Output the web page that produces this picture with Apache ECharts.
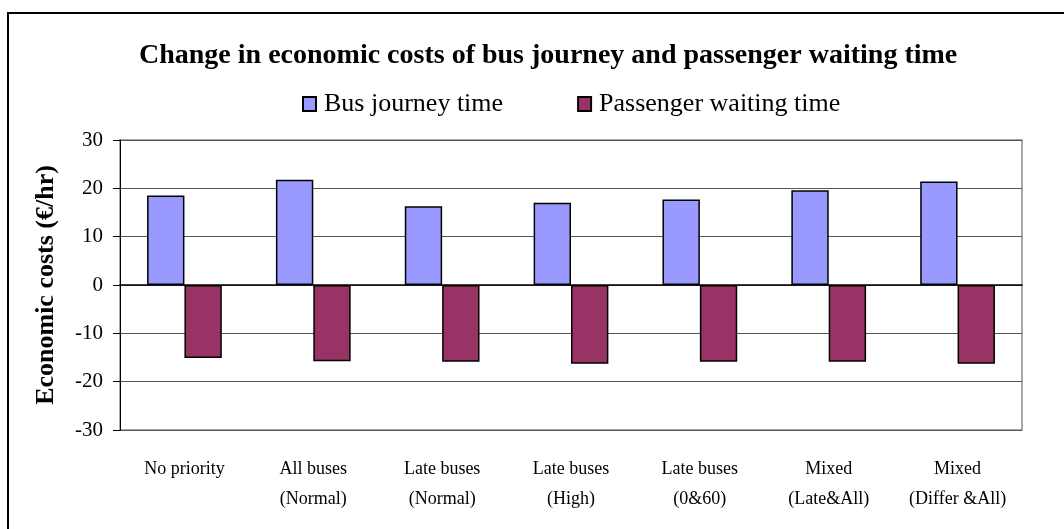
<!DOCTYPE html>
<html>
<head>
<meta charset="utf-8">
<script src="https://cdn.jsdelivr.net/npm/echarts@6/dist/echarts.min.js"></script>
<style>
  html, body { margin: 0; padding: 0; background: #fff; }
  #main { width: 1064px; height: 529px; }
</style>
</head>
<body>
<div id="main"></div>
<script>
const categories = ['No priority\n', 'All buses\n(Normal)', 'Late buses\n(Normal)', 'Late buses\n(High)',
    'Late buses\n(0&60)', 'Mixed\n(Late&All)', 'Mixed\n(Differ &All)']
const busJourney = [18.5, 21.8, 16.3, 17.0, 17.7, 19.6, 21.4]
const passengerWaiting = [-15.1, -15.8, -15.9, -16.3, -15.9, -15.9, -16.3]

const serif = 'Liberation Serif'

var myChart = echarts.init(document.getElementById('main'))
myChart.setOption({
    animation: false,
    title: {
        text: 'Change in economic costs of bus journey and passenger waiting time',
        left: 134,
        top: 37,
        textStyle: { fontFamily: serif, fontWeight: 'bold', fontSize: 28, color: '#000' }
    },
    legend: {
        top: 86,
        left: 297,
        icon: 'rect',
        itemWidth: 13,
        itemHeight: 14,
        itemGap: 74,
        textStyle: { fontFamily: serif, fontSize: 26, color: '#000', padding: [0, 0, 0, 3] }
    },
    graphic: [{
        type: 'rect',
        shape: { x: 8, y: 13, width: 1100, height: 600 },
        style: { fill: 'none', stroke: '#000', lineWidth: 2 }
    }],
    grid: {
        left: 120, right: 42, top: 140, bottom: 99,
        containLabel: false,
        show: true,
        borderColor: '#8c8c8c',
        borderWidth: 1.5
    },
    xAxis: [{
        type: 'category',
        data: categories,
        position: 'top',
        axisLine: { onZero: true, lineStyle: { color: '#000', width: 1.5 } },
        axisTick: { inside: true, length: 7, lineStyle: { color: '#000' } },
        axisLabel: { show: false },
        splitLine: { show: false }
    }, {
        type: 'category',
        data: categories,
        position: 'bottom',
        axisLine: { show: false },
        axisTick: { show: false },
        axisLabel: { interval: 0, fontFamily: serif, fontSize: 18, lineHeight: 30, color: '#000', margin: 24 }
    }],
    yAxis: {
        type: 'value',
        min: -30,
        max: 30,
        interval: 10,
        name: 'Economic costs (€/hr)',
        nameLocation: 'middle',
        nameGap: 61,
        nameTextStyle: { fontFamily: serif, fontWeight: 'bold', fontSize: 26, color: '#000' },
        axisLine: { show: true, lineStyle: { color: '#000' } },
        axisTick: { show: true, length: 7, lineStyle: { color: '#000' } },
        axisLabel: { fontFamily: serif, fontSize: 21, color: '#000', margin: 17 },
        splitLine: { lineStyle: { color: '#555', width: 1 } }
    },
    series: [{
        name: 'Bus journey time',
        type: 'bar',
        data: busJourney,
        barGap: '0%',
        barCategoryGap: '42%',
        itemStyle: { color: '#9999ff', borderColor: '#000', borderWidth: 1.5 }
    }, {
        name: 'Passenger waiting time',
        type: 'bar',
        data: passengerWaiting,
        itemStyle: { color: '#993366', borderColor: '#000', borderWidth: 1.5 }
    }]
})
</script>
</body>
</html>
